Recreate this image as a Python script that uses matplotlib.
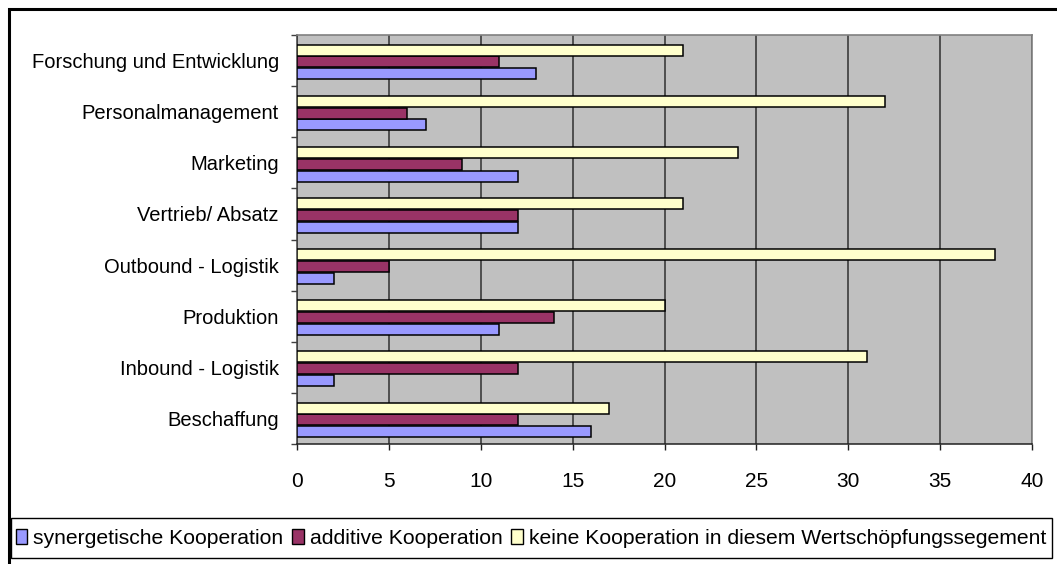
import matplotlib
matplotlib.use("Agg")
import matplotlib.pyplot as plt
from matplotlib.patches import Rectangle, Patch
import numpy as np

plt.rcParams['font.family'] = ['Liberation Sans', 'DejaVu Sans']

categories = ["Beschaffung", "Inbound - Logistik", "Produktion", "Outbound - Logistik",
              "Vertrieb/ Absatz", "Marketing", "Personalmanagement",
              "Forschung und Entwicklung"]
synergetisch = [16, 2, 11, 2, 12, 12, 7, 13]
additiv = [12, 12, 14, 5, 12, 9, 6, 11]
keine = [17, 31, 20, 38, 21, 24, 32, 21]
series_names = ["synergetische Kooperation", "additive Kooperation",
                "keine Kooperation in diesem Wertschöpfungssegement"]
x_ticks = [0, 5, 10, 15, 20, 25, 30, 35, 40]

W, H = 1057, 564
fig = plt.figure(figsize=(W / 100, H / 100), dpi=100)
fig.patch.set_facecolor("white")

# outer chart frame
fig.patches.append(Rectangle((9 / W, -0.1), 1.2, 1 - 9 / H + 0.1, transform=fig.transFigure,
                             fill=False, edgecolor="black", linewidth=2.2))

ax = fig.add_axes([297 / W, 1 - 444 / H, (1032 - 297) / W, (444 - 35) / H])
ax.set_facecolor("#C0C0C0")

y = np.arange(len(categories))
h = 0.215
colors = ["#9999FF", "#993366", "#FFFFCC"]
offsets = [-0.26, -0.027, 0.203]
for vals, off, c, name in zip([synergetisch, additiv, keine], offsets, colors, series_names):
    ax.barh(y + off, vals, height=h, color=c, edgecolor="black", linewidth=1.1,
            label=name, zorder=3)

ax.set_xlim(0, 40)
ax.set_ylim(-0.5, len(categories) - 0.5)
ax.set_xticks(x_ticks)
ax.set_xticklabels([str(t) for t in x_ticks], fontsize=15)
ax.set_yticks(y)
ax.set_yticklabels(categories, fontsize=14.5)
ax.set_yticks(np.arange(len(categories) + 1) - 0.5, minor=True)
ax.tick_params(axis="y", which="major", length=0, pad=13)
ax.tick_params(axis="y", which="minor", length=4.5, width=1, color="#404040", direction="out")
ax.tick_params(axis="x", which="major", length=4.5, width=1, color="#202020", pad=16, direction="out")

ax.grid(axis="x", color="#303030", linewidth=1.1, zorder=1)
ax.set_axisbelow(True)
for s in ["top", "right"]:
    ax.spines[s].set_color("#808080")
    ax.spines[s].set_linewidth(1.2)
ax.spines["left"].set_color("#404040")
ax.spines["bottom"].set_color("#202020")
ax.spines["left"].set_linewidth(1.1)
ax.spines["bottom"].set_linewidth(1.1)

# legend box
fig.patches.append(Rectangle((11 / W, 1 - 558 / H), (1052 - 11) / W, 40 / H,
                             transform=fig.transFigure, fill=False,
                             edgecolor="black", linewidth=1.0))
handles = [Patch(facecolor=c, edgecolor="black", linewidth=1.0) for c in colors]
fig.legend(handles, series_names, loc="center", ncol=3, frameon=False,
           bbox_to_anchor=(531 / W, 1 - 538 / H), fontsize=15.2,
           handlelength=0.55, handleheight=0.7, handletextpad=0.3,
           columnspacing=0.4, borderpad=0)

fig.savefig("out.png", dpi=100)
